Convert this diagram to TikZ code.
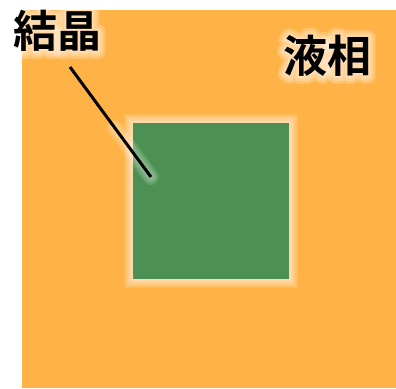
\documentclass[tikz,border=0pt]{standalone}
\usepackage{fontspec}
\newfontfamily\cjk{Noto Sans CJK JP}[BoldFont={* Bold}]
\usetikzlibrary{calc}
\definecolor{liq}{HTML}{FFB347}
\definecolor{xtal}{HTML}{4C9153}
\newcommand{\strokedtext}[2]{\special{pdf:literal direct 1 J 1 j #1 w 2 Tr}#2\special{pdf:literal direct 0 Tr 1 w}}
\tikzset{
  lbl/.style={font=\cjk\bfseries\fontsize{44}{44}\selectfont, text=black, inner sep=0pt},
  glw/.style={font=\cjk\bfseries\fontsize{44}{44}\selectfont, text=white, inner sep=0pt, opacity=0.22},
}
\begin{document}
\begin{tikzpicture}[x=1pt,y=-1pt]
\useasboundingbox (0,0) rectangle (396,388);
\fill[white] (0,0) rectangle (396,388);
\fill[liq] (22,10) rectangle (396,388);
% glow around crystal
\foreach \w in {2,4,...,18}{
  \draw[white, opacity=0.09, line width=\w pt] (133,123) rectangle (289,279);
}
\node[fill=xtal, minimum width=156pt, minimum height=156pt, inner sep=0pt, anchor=north west] (crys) at (133,123) {};
% pointer line
\coordinate (lstart) at (70,67);
\coordinate (lend) at (151,177);
\foreach \w in {4,8,12,16}{
  \draw[white, opacity=0.12, line width=\w pt, line cap=round] ($(lstart)!0.55!(lend)$) -- (lend);
}
\draw[black, line width=3pt] (lstart) -- (lend);
% label glows
\coordinate (p1) at (57,31);
\coordinate (p2) at (327,56);
\foreach \w in {5,10,15}{
  \node[glw] at (p1) {\strokedtext{\w}{結晶}};
  \node[glw] at (p2) {\strokedtext{\w}{液相}};
}
% labels
\node[lbl] (kessho) at (p1) {結晶};
\node[lbl] (ekiso) at (p2) {液相};
\end{tikzpicture}
\end{document}
